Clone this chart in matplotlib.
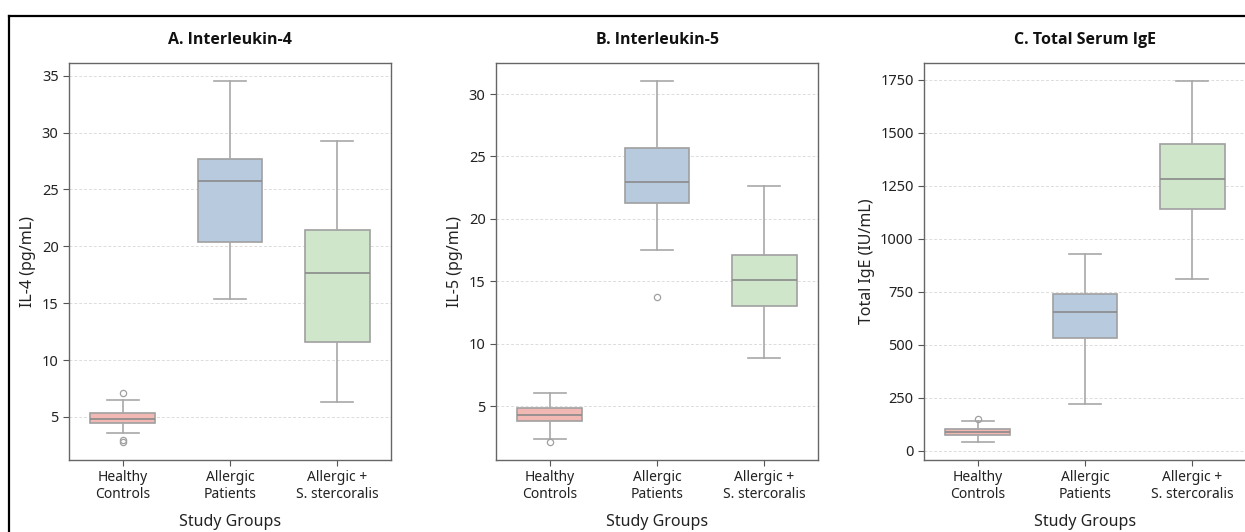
import numpy as np
import matplotlib
matplotlib.use("Agg")
import matplotlib.pyplot as plt
from matplotlib.lines import Line2D

plt.rcParams['font.family'] = ['Noto Sans', 'DejaVu Sans']

groups = ['Healthy\nControls', 'Allergic\nPatients', 'Allergic +\nS. stercoralis']
colors = ['#f2b8b4', '#b8cbde', '#d0e6cb']

# IL-4 (pg/mL): whislo, q1, median, q3, whishi, fliers
il4_whislo = [3.56, 15.39, 6.28]
il4_q1 = [4.47, 20.38, 11.61]
il4_med = [4.85, 25.70, 17.67]
il4_q3 = [5.32, 27.72, 21.46]
il4_whishi = [6.49, 34.53, 29.24]
il4_fliers = [[7.1, 3.0, 2.8], [], []]

# IL-5 (pg/mL)
il5_whislo = [2.36, 17.52, 8.88]
il5_q1 = [3.82, 21.28, 13.04]
il5_med = [4.30, 22.92, 15.10]
il5_q3 = [4.86, 25.67, 17.12]
il5_whishi = [6.01, 31.04, 22.64]
il5_fliers = [[2.12], [13.77], []]

# Total IgE (IU/mL)
ige_whislo = [41, 222, 811]
ige_q1 = [72, 531, 1138]
ige_med = [88, 654, 1284]
ige_q3 = [102, 740, 1447]
ige_whishi = [138, 929, 1744]
ige_fliers = [[151], [], []]

panels = [
    ('A. Interleukin-4', 'IL-4 (pg/mL)', il4_whislo, il4_q1, il4_med, il4_q3, il4_whishi, il4_fliers, [5, 10, 15, 20, 25, 30, 35]),
    ('B. Interleukin-5', 'IL-5 (pg/mL)', il5_whislo, il5_q1, il5_med, il5_q3, il5_whishi, il5_fliers, [5, 10, 15, 20, 25, 30]),
    ('C. Total Serum IgE', 'Total IgE (IU/mL)', ige_whislo, ige_q1, ige_med, ige_q3, ige_whishi, ige_fliers, [0, 250, 500, 750, 1000, 1250, 1500, 1750]),
]

fig = plt.figure(figsize=(12.45, 5.32), dpi=100)
lefts = [69, 496, 924]
W, H = 1245, 532

for i, (title, ylabel, lo, q1, med, q3, hi, fl, ticks) in enumerate(panels):
    ax = fig.add_axes([lefts[i] / W, 1 - 460 / H, 322 / W, 397 / H])
    stats = []
    for j in range(3):
        stats.append(dict(whislo=lo[j], q1=q1[j], med=med[j], q3=q3[j], whishi=hi[j], fliers=fl[j]))
    bp = ax.bxp(stats, positions=[0, 1, 2], widths=0.6, patch_artist=True,
                boxprops=dict(edgecolor='#a0a0a0', linewidth=1.2),
                medianprops=dict(color='#8a8a8a', linewidth=1.2),
                whiskerprops=dict(color='#a8a8a8', linewidth=1.2),
                capprops=dict(color='#a8a8a8', linewidth=1.2),
                flierprops=dict(marker='o', markersize=4.5, markerfacecolor='none',
                                markeredgecolor='#a0a0a0', markeredgewidth=0.9))
    for patch, c in zip(bp['boxes'], colors):
        patch.set_facecolor(c)
    ax.set_xlim(-0.5, 2.5)
    ax.set_xticks([0, 1, 2])
    ax.set_xticklabels(groups, fontsize=10, color='#222222', linespacing=1.1)
    ax.set_yticks(ticks)
    ax.tick_params(axis='y', labelsize=10.5, colors='#555555', length=4, width=0.8, labelcolor='#222222')
    ax.tick_params(axis='x', length=4, width=0.8, colors='#555555', labelcolor='#222222')
    ax.yaxis.grid(True, linestyle=(0, (3, 2)), color='#dcdcdc', linewidth=0.7)
    ax.set_axisbelow(True)
    for s in ax.spines.values():
        s.set_color('#666666')
        s.set_linewidth(1.0)
    ax.set_title(title, fontsize=11.5, fontweight='bold', pad=14, color='#111111',
                 family=['Open Sans', 'DejaVu Sans'])
    ax.set_ylabel(ylabel, fontsize=11.5, color='#222222')
    ax.set_xlabel('Study Groups', fontsize=11.5, color='#222222', labelpad=9)

fig.add_artist(Line2D([8.5 / W, 1], [1 - 15.5 / H, 1 - 15.5 / H], color='black', linewidth=1.6))
fig.add_artist(Line2D([9 / W, 9 / W], [0, 1 - 15.5 / H], color='black', linewidth=1.6))

fig.savefig('out.png', dpi=100)
